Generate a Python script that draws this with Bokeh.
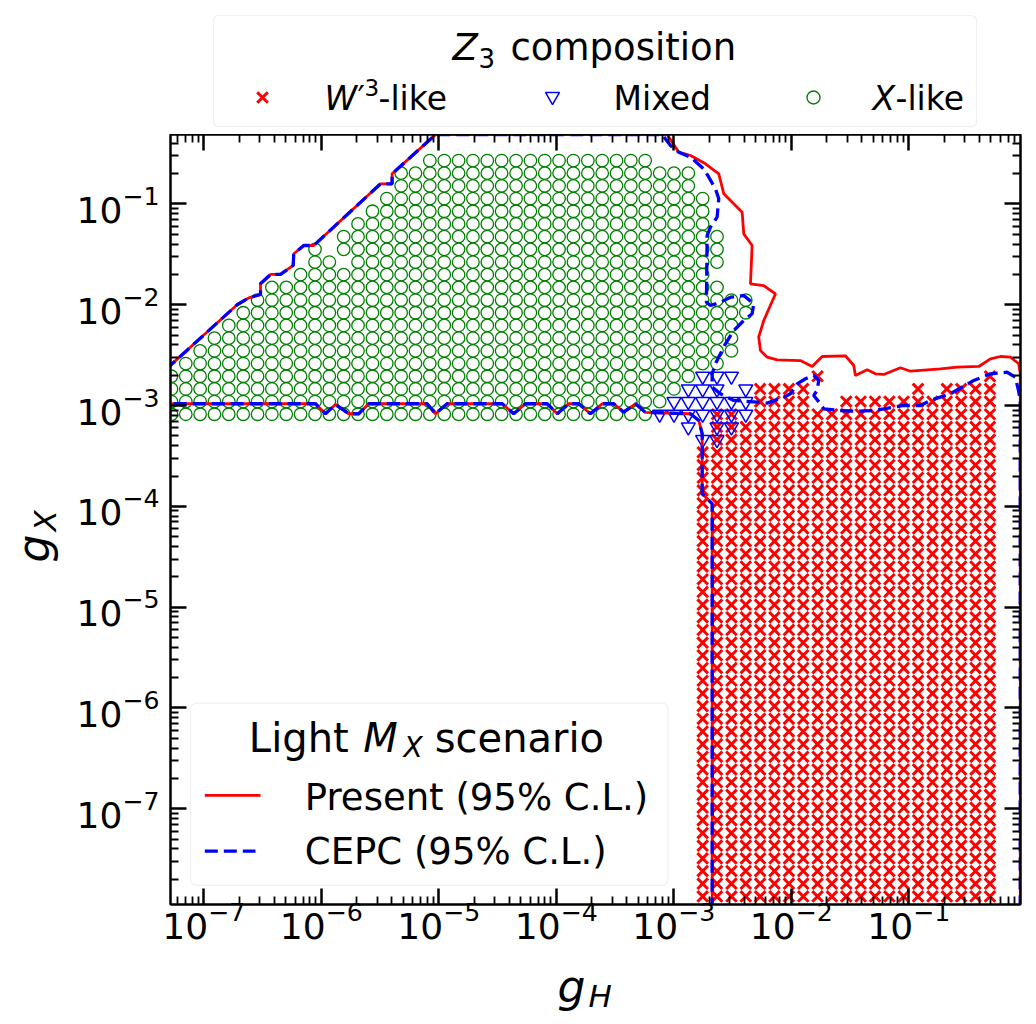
import numpy as np
from bokeh.plotting import figure
from bokeh.models import (Range1d, FixedTicker, LogAxis, BoxAnnotation, Label,
                          CustomJSTickFormatter)
from bokeh.layouts import column, row
from bokeh.embed import file_html
from bokeh.resources import INLINE
from bokeh.core.properties import value

FONT = "DejaVu Sans"

# scan grid: log10(g_H) columns and log10(g_X) rows
GH_EXP = [-7.275, -7.153, -7.031, -6.909, -6.787, -6.664, -6.542, -6.420, -6.298, -6.176,
          -6.053, -5.931, -5.809, -5.687, -5.564, -5.442, -5.320, -5.198, -5.076, -4.953,
          -4.831, -4.709, -4.587, -4.465, -4.342, -4.220, -4.098, -3.976, -3.854, -3.731,
          -3.609, -3.487, -3.365, -3.243, -3.120, -2.998, -2.876, -2.754, -2.632, -2.509,
          -2.387, -2.265, -2.143, -2.020, -1.898, -1.776, -1.654, -1.532, -1.409, -1.287,
          -1.165, -1.043, -0.921, -0.798, -0.676, -0.554, -0.432, -0.309]
GX_EXP = [-0.569, -0.694, -0.820, -0.946, -1.072, -1.198, -1.324, -1.450, -1.576, -1.701,
          -1.827, -1.953, -2.079, -2.205, -2.331, -2.457, -2.583, -2.709, -2.835, -2.960,
          -3.086, -3.212, -3.338, -3.464, -3.590, -3.716, -3.842, -3.968, -4.093, -4.219,
          -4.345, -4.471, -4.597, -4.723, -4.849, -4.975, -5.101, -5.226, -5.352, -5.478,
          -5.604, -5.730, -5.856, -5.982, -6.108, -6.234, -6.359, -6.485, -6.611, -6.737,
          -6.863, -6.989, -7.115, -7.241, -7.367, -7.493, -7.618, -7.744, -7.870]

# Z3 composition of allowed points: (first row, last row, first column, last column)
WLIKE_BLOCKS = [(17, 17, 45, 45), (17, 17, 57, 57),
                (18, 18, 41, 44), (18, 18, 52, 52), (18, 18, 54, 57),
                (19, 19, 41, 44), (19, 19, 47, 57),
                (20, 20, 38, 39), (20, 20, 41, 57),
                (21, 22, 38, 57),
                (23, 58, 37, 57)]
MIXED_BLOCKS = [(17, 17, 37, 39),
                (18, 18, 36, 38), (18, 18, 40, 40),
                (19, 19, 35, 40),
                (20, 20, 34, 40),
                (21, 21, 36, 36), (21, 21, 38, 39),
                (22, 22, 37, 38)]
XLIKE_BLOCKS = [(0, 0, 18, 33), (1, 2, 16, 36), (3, 3, 15, 37), (4, 4, 14, 37),
                (5, 5, 13, 37), (6, 6, 12, 38), (7, 8, 10, 38), (9, 9, 9, 37),
                (10, 10, 7, 38), (11, 11, 6, 40), (12, 12, 5, 40), (13, 13, 4, 39),
                (14, 14, 3, 39), (15, 15, 2, 39), (16, 16, 1, 38), (17, 17, 0, 36),
                (18, 18, 0, 35), (19, 19, 0, 34), (20, 20, 0, 33)]
XLIKE_GAPS = [(7, 11), (8, 12)]

# 95% C.L. boundary shared by both constraints (log10 gH, log10 gX)
BOUNDARY = [(-2.673, -8.2), (-2.673, -3.974), (-2.758, -3.875), (-2.758, -3.280),
            (-2.787, -3.148), (-2.858, -3.081), (-3.241, -3.068), (-3.326, -2.982),
            (-3.426, -3.065), (-3.511, -2.982), (-3.609, -2.982), (-3.709, -3.081),
            (-3.809, -2.982), (-3.894, -2.982), (-3.992, -3.081), (-4.077, -2.982),
            (-4.262, -2.982), (-4.362, -3.081), (-4.460, -2.982), (-4.929, -2.982),
            (-5.028, -3.081), (-5.099, -2.982), (-5.596, -2.982), (-5.681, -3.081),
            (-5.766, -3.081), (-5.879, -2.989), (-5.964, -3.081), (-6.049, -2.982),
            (-7.45, -2.982), (-7.45, -2.777), (-7.269, -2.585), (-6.716, -2.000),
            (-6.617, -1.931), (-6.517, -1.898), (-6.517, -1.792), (-6.432, -1.699),
            (-6.347, -1.699), (-6.239, -1.610), (-6.234, -1.494), (-6.149, -1.412),
            (-6.064, -1.412), (-5.496, -0.800), (-5.397, -0.800), (-5.397, -0.700),
            (-5.028, -0.312)]
PRESENT_TAIL = [(-3.056, -0.312), (-2.957, -0.486), (-2.857, -0.519), (-2.730, -0.601),
                (-2.617, -0.700), (-2.574, -0.899), (-2.418, -1.081), (-2.404, -1.296),
                (-2.333, -1.412), (-2.347, -1.792), (-2.234, -1.809), (-2.134, -1.891),
                (-2.234, -2.156), (-2.277, -2.321), (-2.262, -2.453), (-2.205, -2.520),
                (-2.120, -2.546), (-1.922, -2.553), (-1.822, -2.612), (-1.737, -2.513),
                (-1.539, -2.506), (-1.468, -2.602), (-1.454, -2.701), (-1.354, -2.645),
                (-1.283, -2.685), (-1.213, -2.691), (-1.071, -2.625), (-0.985, -2.659),
                (-0.730, -2.635), (-0.588, -2.619), (-0.404, -2.612), (-0.305, -2.536),
                (-0.220, -2.513), (-0.135, -2.520), (-0.064, -2.585), (-0.051, -2.682),
                (-0.051, -8.2)]
CEPC_TAIL = [(-3.099, -0.312), (-3.028, -0.420), (-2.957, -0.486), (-2.857, -0.536),
             (-2.745, -0.651), (-2.702, -0.734), (-2.645, -0.849), (-2.617, -0.948),
             (-2.631, -1.131), (-2.688, -1.230), (-2.716, -1.313), (-2.722, -1.974),
             (-2.688, -2.007), (-2.603, -1.974), (-2.517, -1.925), (-2.404, -1.908),
             (-2.319, -1.990), (-2.333, -2.089), (-2.404, -2.156), (-2.489, -2.255),
             (-2.560, -2.387), (-2.603, -2.486), (-2.645, -2.585), (-2.673, -2.685),
             (-2.673, -2.817), (-2.603, -2.883), (-2.489, -2.949), (-2.290, -2.966),
             (-2.205, -2.976), (-2.064, -2.917), (-2.007, -2.883), (-1.950, -2.784),
             (-1.879, -2.734), (-1.809, -2.701), (-1.766, -2.751), (-1.780, -2.850),
             (-1.809, -2.900), (-1.752, -2.982), (-1.723, -3.032), (-1.581, -3.049),
             (-1.439, -3.056), (-1.298, -3.049), (-1.043, -2.999), (-0.900, -2.999),
             (-0.817, -2.949), (-0.646, -2.883), (-0.447, -2.751), (-0.306, -2.685),
             (-0.163, -2.669), (-0.094, -2.718), (-0.066, -2.850), (-0.051, -2.949),
             (-0.051, -8.2)]

MAJOR_DECADES = [-8, -7, -6, -5, -4, -3, -2, -1, 0]

LEFT_W = 70          # width of the strip holding the vertical axis title
RIGHT_W = 1036 - LEFT_W


def grid_points(blocks, gaps=()):
    skip = set(gaps)
    xs, ys = [], []
    for r0, r1, c0, c1 in blocks:
        for r in range(r0, r1 + 1):
            for c in range(c0, c1 + 1):
                if (r, c) not in skip:
                    xs.append(10.0 ** GH_EXP[c])
                    ys.append(10.0 ** GX_EXP[r])
    return xs, ys


def path(points):
    return [10.0 ** a for a, _ in points], [10.0 ** b for _, b in points]


def strip(height, y_top):
    s = figure(width=RIGHT_W, height=height, x_range=Range1d(170, 1020),
               y_range=Range1d(y_top + height, y_top), output_backend="svg",
               toolbar_location=None, min_border=0, x_axis_location=None,
               y_axis_location=None, outline_line_color=None)
    s.xgrid.visible = False
    s.ygrid.visible = False
    return s


def strip_text(s, x, y, txt, size, style="normal", angle=0.0):
    s.text(x=[x], y=[y], text=[txt], text_font=value(FONT), text_font_size=size,
           text_font_style=style, text_baseline="alphabetic", text_align="left",
           text_color="black", angle=angle)


# ---------------- legend strip above the axes (page pixel coordinates) ----------------
lg = strip(134, 0)
lg.add_layout(BoxAnnotation(left=213, right=976, top=15, bottom=126, fill_color="white",
                            fill_alpha=1.0, line_color="#cccccc", line_width=1.2,
                            border_radius=5, level="underlay"))

strip_text(lg, 452, 47, "Z", "37px", "italic")
strip_text(lg, 478, 57, "3", "26px")
strip_text(lg, 510, 47, "composition", "37px")

lg.scatter([262], [97], marker="x", size=15, line_color="red", line_width=3)
strip_text(lg, 324, 98, "W", "33px", "italic")
strip_text(lg, 357, 98, "\u2032", "33px")
strip_text(lg, 364, 87, "3", "23px")
strip_text(lg, 378, 98, "-like", "33px")

lg.scatter([552], [96], marker="inverted_triangle", size=14, line_color="blue",
           fill_color=None, line_width=1.5)
strip_text(lg, 613, 98, "Mixed", "33px")

lg.scatter([813], [97], marker="circle", size=13, line_color="green",
           fill_color=None, line_width=1.4)
strip_text(lg, 872, 98, "X", "33px", "italic")
strip_text(lg, 895, 98, "-like", "33px")

# ---------------- main coupling plane ----------------
p = figure(width=RIGHT_W, height=820, x_axis_type="log", y_axis_type="log",
           x_range=Range1d(10 ** -7.283, 10 ** -0.049),
           y_range=Range1d(10 ** -7.950, 10 ** -0.3105),
           output_backend="svg", toolbar_location=None,
           min_border_left=170 - LEFT_W, min_border_right=16, min_border_top=0,
           min_border_bottom=50)
p.add_layout(LogAxis(), "above")
p.add_layout(LogAxis(), "right")

ticker = FixedTicker(ticks=[10.0 ** e for e in MAJOR_DECADES],
                     minor_ticks=[m * 10.0 ** e for e in MAJOR_DECADES for m in range(2, 10)])
for ax in p.xaxis + p.yaxis:
    ax.ticker = ticker
    ax.major_tick_in = 16
    ax.major_tick_out = 0
    ax.minor_tick_in = 8
    ax.minor_tick_out = 0
    ax.major_tick_line_width = 2.5
    ax.minor_tick_line_width = 1.8
    ax.major_tick_line_color = "black"
    ax.minor_tick_line_color = "black"
    ax.axis_line_width = 2
    ax.axis_line_color = "black"
    ax.major_label_text_font = FONT
    ax.major_label_text_font_size = "36px"
    ax.major_label_text_color = "black"
p.below[0].major_label_standoff = -4
p.left[0].major_label_standoff = 11
for ax in (p.above[0], p.right[0]):
    ax.formatter = CustomJSTickFormatter(code="return ''")
    ax.major_label_text_font_size = "1px"
    ax.major_label_standoff = 0

p.xgrid.visible = False
p.ygrid.visible = False
p.outline_line_color = "black"
p.outline_line_width = 2

wx, wy = grid_points(WLIKE_BLOCKS)
p.scatter(wx, wy, marker="x", size=15, line_color="red", line_width=3)
mx, my = grid_points(MIXED_BLOCKS)
p.scatter(mx, my, marker="inverted_triangle", size=14, line_color="blue",
          fill_color=None, line_width=1.5)
xx, xy = grid_points(XLIKE_BLOCKS, XLIKE_GAPS)
p.scatter(xx, xy, marker="circle", size=12.5, line_color="green",
          fill_color=None, line_width=1.3)

px_, py_ = path(BOUNDARY + PRESENT_TAIL)
p.line(px_, py_, line_color="red", line_width=2.8)
cx_, cy_ = path(BOUNDARY + CEPC_TAIL)
p.line(cx_, cy_, line_color="blue", line_width=3.3, line_dash="13 6")

# scenario legend in the lower-left corner
p.add_layout(BoxAnnotation(left=10 ** -7.113, right=10 ** -3.048, top=10 ** -5.952,
                           bottom=10 ** -7.761, fill_color="white", fill_alpha=0.8,
                           line_color="#cccccc", line_width=1.2, border_radius=6,
                           level="underlay"))


def data_label(lx, ly, txt, size, style="normal"):
    p.add_layout(Label(x=10 ** lx, y=10 ** ly, text=txt, text_font=FONT, text_font_size=size,
                       text_font_style=style, text_baseline="alphabetic", text_align="left",
                       text_color="black"))


data_label(-6.616, -6.296, "Light", "40px")
data_label(-5.643, -6.296, "M", "40px", "italic")
data_label(-5.300, -6.392, "X", "28px", "italic")
data_label(-5.034, -6.296, "scenario", "40px")
p.line([10 ** -6.991, 10 ** -6.517], [10 ** -6.868, 10 ** -6.868], line_color="red", line_width=2.8)
data_label(-6.140, -6.891, "Present (95% C.L.)", "37px")
p.line([10 ** -6.991, 10 ** -6.560], [10 ** -7.421, 10 ** -7.421], line_color="blue",
       line_width=3.3, line_dash="13 6")
data_label(-6.140, -7.421, "CEPC (95% C.L.)", "37px")

# ---------------- horizontal axis title strip ----------------
xl = strip(70, 954)
strip_text(xl, 557, 986, "g", "44px", "italic")
strip_text(xl, 588, 995, "H", "31px", "italic")

# ---------------- vertical axis title strip (y measured upward from the page bottom) ----------------
yl = figure(width=LEFT_W, height=1024, x_range=Range1d(0, LEFT_W), y_range=Range1d(120, 890),
            output_backend="svg", toolbar_location=None, min_border_left=0,
            min_border_right=0, min_border_top=134, min_border_bottom=120,
            x_axis_location=None, y_axis_location=None, outline_line_color=None)
yl.xgrid.visible = False
yl.ygrid.visible = False
strip_text(yl, 33, 462, "g", "44px", "italic", np.pi / 2)
strip_text(yl, 44, 493, "X", "31px", "italic", np.pi / 2)

layout = row(yl, column(lg, p, xl))
open("out.html", "w").write(file_html(layout, INLINE))
